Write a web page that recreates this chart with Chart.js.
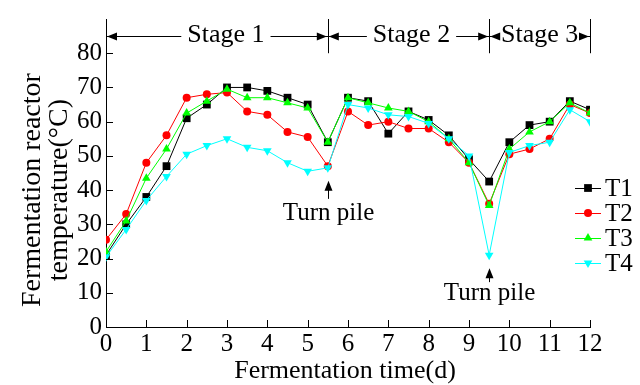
<!DOCTYPE html>
<html>
<head>
<meta charset="utf-8">
<script src="https://cdn.jsdelivr.net/npm/chart.js@4.4.0/dist/chart.umd.min.js"></script>
<style>html,body{margin:0;padding:0;background:#fff}</style>
</head>
<body>
<canvas id="myChart" width="640" height="385"></canvas>
<script>
// fermentation time (d)
const days = [0,0.5,1,1.5,2,2.5,3,3.5,4,4.5,5,5.5,6,6.5,7,7.5,8,8.5,9,9.5,10,10.5,11,11.5,12];
// reactor temperature (°C)
const t1 = [21,30,38,47,61,65,70,70,69,67,65,54,67,66,56.5,63,60.5,56,49,42.5,54,59,60,66,63.5];
const t2 = [25.5,33,48,56,67,68,68.5,63,62,57,55.5,47,63,59,60,58,58,54,48,36,50.5,52,55,65,62.5];
const t3 = [22,31,43.5,52,62.5,66,69.5,67,67,65.5,64,54,67,65.5,64,63,60,55,48,35.5,52,57,60,65.5,62.5];
const t4 = [20.5,28.5,37,44,50.5,53,55,52.5,51.5,48,45.5,46.5,65,64,62,61.5,59.5,55,50,21,51,53,54,63.5,60];
const seriesNames = ['T1','T2','T3','T4'];
const stageLabels = ['Stage 1','Stage 2','Stage 3'];
const stageBounds = [0,5.5,9.5,12];
const turnPileDays = [5.5,9.5];
const xTicks = [0,1,2,3,4,5,6,7,8,9,10,11,12];
const yTicks = [0,10,20,30,40,50,60,70,80];

const FONT = "'Liberation Serif', 'Times New Roman', serif";
Chart.defaults.font.family = FONT;
Chart.defaults.color = '#000';

const styles = [
  {color:'#000000', pointStyle:'rect', radius:5.5, rotation:0},
  {color:'#ff0000', pointStyle:'circle', radius:4, rotation:0},
  {color:'#00ff00', pointStyle:'triangle', radius:5, rotation:0},
  {color:'#00ffff', pointStyle:'triangle', radius:5, rotation:180}
];

const allSeries = [t1,t2,t3,t4];
const datasets = allSeries.map((vals, i) => ({
  label: seriesNames[i],
  data: days.map((d, j) => ({x: d, y: vals[j]})),
  borderColor: styles[i].color,
  backgroundColor: styles[i].color,
  pointStyle: styles[i].pointStyle,
  pointRadius: styles[i].radius,
  pointRotation: styles[i].rotation,
  pointBorderWidth: 0,
  borderWidth: 1,
  order: 3 - i
}));

function arrowHead(ctx, x, y, dir) {
  ctx.beginPath();
  if (dir === 'left') { ctx.moveTo(x, y); ctx.lineTo(x + 10, y - 4); ctx.lineTo(x + 10, y + 4); }
  else if (dir === 'right') { ctx.moveTo(x, y); ctx.lineTo(x - 10, y - 4); ctx.lineTo(x - 10, y + 4); }
  else { ctx.moveTo(x, y); ctx.lineTo(x - 4, y + 10); ctx.lineTo(x + 4, y + 10); }
  ctx.closePath();
  ctx.fill();
}

const decorations = {
  id: 'decorations',
  afterDraw(chart) {
    const {ctx, scales: {x, y}} = chart;
    ctx.save();
    ctx.strokeStyle = '#000';
    ctx.fillStyle = '#000';
    ctx.lineWidth = 1;

    // inward tick marks
    yTicks.forEach(v => {
      const py = Math.round(y.getPixelForValue(v)) + 0.5;
      ctx.beginPath(); ctx.moveTo(x.left, py); ctx.lineTo(x.left + 7, py); ctx.stroke();
    });
    xTicks.forEach(v => {
      const px = Math.round(x.getPixelForValue(v)) + 0.5;
      ctx.beginPath(); ctx.moveTo(px, y.bottom); ctx.lineTo(px, y.bottom - 7); ctx.stroke();
    });

    // stage brackets
    const yb = Math.round(y.getPixelForValue(85)) + 0.5;
    const yTop = y.getPixelForValue(90), yBot = y.getPixelForValue(80);
    stageBounds.slice(1).forEach(d => {
      const px = Math.round(x.getPixelForValue(d)) + 0.5;
      ctx.beginPath(); ctx.moveTo(px, yTop); ctx.lineTo(px, yBot); ctx.stroke();
    });
    ctx.beginPath(); ctx.moveTo(x.getPixelForValue(0), yb); ctx.lineTo(x.getPixelForValue(12), yb); ctx.stroke();
    ctx.font = '26px ' + FONT;
    ctx.textAlign = 'center';
    ctx.textBaseline = 'middle';
    const labelShift = [9, 3, 0];
    stageLabels.forEach((lab, i) => {
      const x0 = x.getPixelForValue(stageBounds[i]);
      const x1 = x.getPixelForValue(stageBounds[i + 1]);
      const cx = (x0 + x1) / 2 + labelShift[i];
      const w = ctx.measureText(lab).width;
      ctx.fillStyle = '#fff';
      ctx.fillRect(cx - w / 2 - 6, yb - 14, w + 12, 28);
      ctx.fillStyle = '#000';
      ctx.fillText(lab, cx, yb - 1);
      arrowHead(ctx, x0 + 1, yb, 'left');
      arrowHead(ctx, x1 - 1, yb, 'right');
    });

    // turn pile annotations
    ctx.font = '25px ' + FONT;
    const textGap = [33, 25];
    const shaft = [18, 14];
    turnPileDays.forEach((d, k) => {
      const j = days.indexOf(d);
      const low = Math.min(...allSeries.map(s => s[j]));
      const px = Math.round(x.getPixelForValue(d)) + 0.5;
      const tip = y.getPixelForValue(low) + 13;
      ctx.beginPath(); ctx.moveTo(px, tip + 8); ctx.lineTo(px, tip + shaft[k]); ctx.stroke();
      arrowHead(ctx, px, tip, 'up');
      ctx.fillText('Turn pile', px, tip + textGap[k]);
    });

    // axis titles
    ctx.font = '26px ' + FONT;
    ctx.fillText('Fermentation time(d)', (x.left + x.right) / 2 - 3, 371);
    ctx.save();
    ctx.translate(33, y.getPixelForValue(40));
    ctx.rotate(-Math.PI / 2);
    ctx.font = '28px ' + FONT;
    ctx.fillText('Fermentation reactor', 0, 0);
    ctx.fillText('temperature(\u00b0C)', 0, 27);
    ctx.restore();

    // legend
    ctx.font = '25px ' + FONT;
    ctx.textAlign = 'left';
    seriesNames.forEach((name, i) => {
      const ly = 188 + i * 25;
      ctx.strokeStyle = styles[i].color;
      ctx.fillStyle = styles[i].color;
      ctx.beginPath(); ctx.moveTo(575, ly + 0.5); ctx.lineTo(601, ly + 0.5); ctx.stroke();
      Chart.helpers.drawPoint(ctx, {pointStyle: styles[i].pointStyle, radius: styles[i].radius, rotation: styles[i].rotation, borderWidth: 0}, 588, ly);
      ctx.fillStyle = '#000';
      ctx.fillText(name, 605, ly + 1);
    });
    ctx.restore();
  }
};

new Chart(document.getElementById('myChart'), {
  type: 'line',
  data: {datasets},
  options: {
    responsive: false,
    animation: false,
    layout: {padding: {left: 0, right: 50, top: 15, bottom: 0}},
    plugins: {legend: {display: false}, tooltip: {enabled: false}},
    scales: {
      x: {
        type: 'linear', min: 0, max: 12,
        afterFit: s => { s.height = 58; },
        grid: {drawOnChartArea: false, drawTicks: false},
        border: {display: true, color: '#000', width: 1},
        ticks: {stepSize: 1, padding: 2, font: {size: 25}, maxRotation: 0, autoSkip: false}
      },
      y: {
        min: 0, max: 90,
        afterFit: s => { s.width = 106; },
        grid: {drawOnChartArea: false, drawTicks: false},
        border: {display: true, color: '#000', width: 1},
        ticks: {stepSize: 10, padding: 4, font: {size: 25},
          callback: v => (v > 80 ? '' : v)}
      }
    }
  },
  plugins: [decorations]
});
</script>
</body>
</html>
